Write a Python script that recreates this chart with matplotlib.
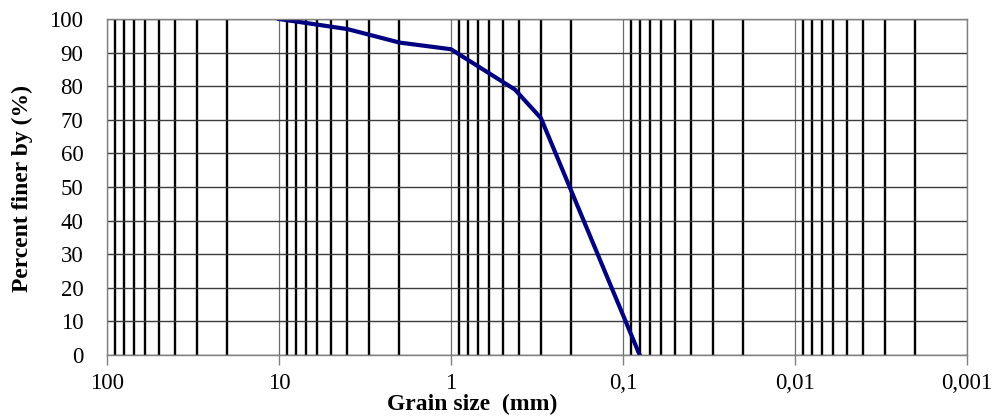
import numpy as np
import matplotlib.pyplot as plt
from matplotlib.ticker import LogLocator, FixedLocator, FixedFormatter

# Grain size distribution (sieve analysis)
grain_size_mm = [10, 4, 2, 1, 0.425, 0.3, 0.08]
percent_finer = [100, 97, 93, 91, 79, 70.5, 0]

x_ticks = [100, 10, 1, 0.1, 0.01, 0.001]
x_tick_labels = ["100", "10", "1", "0,1", "0,01", "0,001"]
y_ticks = list(range(0, 101, 10))

plt.rcParams["font.family"] = "Liberation Serif"

fig = plt.figure(figsize=(9.98, 4.17), dpi=100)
ax = fig.add_axes([107 / 998, 1 - 355 / 417, 860 / 998, 336 / 417])

ax.set_xscale("log")
ax.set_xlim(100, 0.001)
ax.set_ylim(0, 100)

ax.xaxis.set_major_locator(FixedLocator(x_ticks))
ax.xaxis.set_major_formatter(FixedFormatter(x_tick_labels))
ax.xaxis.set_minor_locator(LogLocator(base=10, subs=np.arange(2, 10)))
ax.set_yticks(y_ticks)

ax.grid(True, which="minor", axis="x", color="black", linewidth=1.7)
ax.grid(True, which="major", axis="x", color="#6e6e6e", linewidth=0.9)
ax.grid(True, which="major", axis="y", color="#3c3c3c", linewidth=1.0)
ax.set_axisbelow(True)

ax.plot(grain_size_mm, percent_finer, color="#000080", linewidth=3, solid_joinstyle="round")

for s in ax.spines.values():
    s.set_color("#808080")
    s.set_linewidth(1.0)

ax.tick_params(axis="x", which="major", direction="out", length=7, width=1,
               color="#808080", labelsize=16.5, pad=6)
ax.tick_params(axis="x", which="minor", length=0)
ax.tick_params(axis="y", length=0, labelsize=16.5, pad=17)

fig.text(472 / 998, 1 - 404 / 417, "Grain size  (mm)", ha="center", va="center",
         fontsize=17, fontweight="bold")
fig.text(22 / 998, 1 - 188 / 417, "Percent finer by (%)", ha="center", va="center",
         rotation=90, fontsize=17, fontweight="bold")

fig.savefig("out.png", dpi=100)
